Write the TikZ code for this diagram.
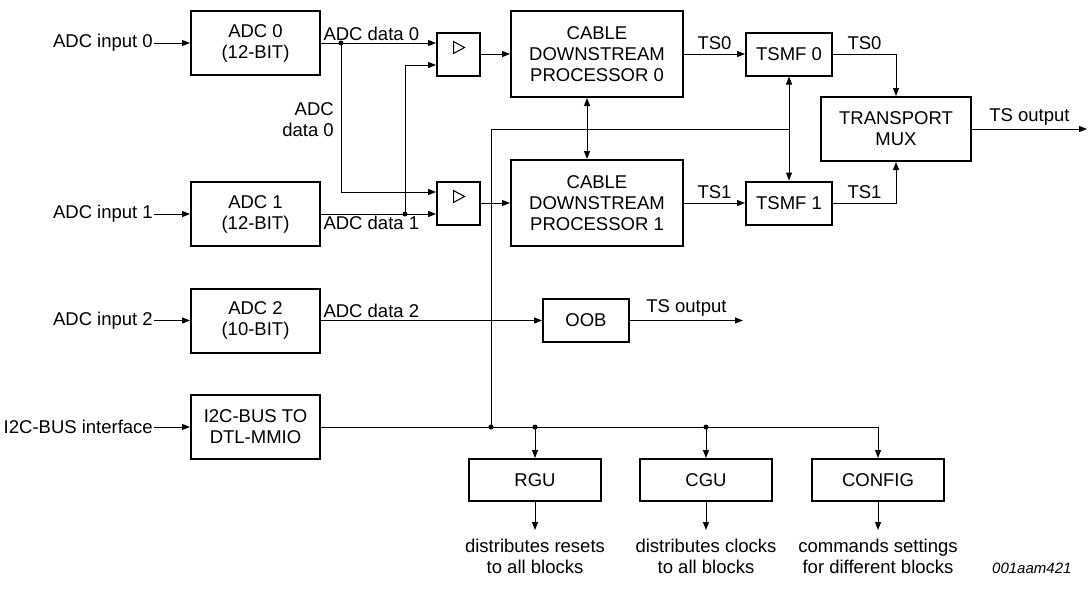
\documentclass[tikz,border=0pt]{standalone}
\usepackage{fontspec}
\setmainfont{Liberation Sans}
\usetikzlibrary{arrows.meta,calc}
\begin{document}
\begin{tikzpicture}[x=1pt,y=-1pt,font=\fontsize{18.5}{21}\selectfont,
    blk/.style={draw,line width=2pt,align=center,inner sep=0pt},
    adcbox/.style={blk,minimum width=129pt,minimum height=64pt},
    muxbox/.style={blk,minimum width=43pt,minimum height=43pt},
    cdpbox/.style={blk,minimum width=172pt,minimum height=86pt},
    smallbox/.style={blk,minimum width=86pt,minimum height=43pt},
    outbox/.style={blk,minimum width=132pt,minimum height=42pt},
    ln/.style={line width=1pt},
    arr/.style={line width=1pt,-{Triangle[length=8pt,width=6pt]}},
    biarr/.style={line width=1pt,{Triangle[length=8pt,width=6pt]}-{Triangle[length=8pt,width=6pt]}},
    dot/.style={circle,fill,inner sep=0pt,minimum size=5pt}]
  \useasboundingbox (0,0) rectangle (1091,589);
  % left column
  \node[adcbox] (adc0) at (255.5,43) {ADC 0\\(12-BIT)};
  \node[adcbox] (adc1) at (255.5,214) {ADC 1\\(12-BIT)};
  \node[adcbox] (adc2) at (255.5,320.5) {ADC 2\\(10-BIT)};
  \node[adcbox] (i2c) at (255.5,427) {I2C-BUS TO\\DTL-MMIO};
  \node[anchor=east,inner sep=1pt] (in0) at (154,43) {ADC input 0};
  \node[anchor=east,inner sep=1pt] (in1) at (154,214) {ADC input 1};
  \node[anchor=east,inner sep=1pt] (in2) at (154,320.5) {ADC input 2};
  \node[anchor=east,inner sep=1pt] (ini2c) at (154,427) {I2C-BUS interface};
  \draw[arr] (in0.east) -- (adc0.west);
  \draw[arr] (in1.east) -- (adc1.west);
  \draw[arr] (in2.east) -- (adc2.west);
  \draw[arr] (ini2c.east) -- (i2c.west);
  % input switches
  \node[muxbox] (mux0) at (458.5,54) {};
  \node[muxbox] (mux1) at (458.5,203) {};
  \foreach \m in {mux0,mux1}
    \draw[ln] ($(\m.north)+(-5,10)$) -- ++(11,6) -- ++(-11,6) -- cycle;
  \draw[arr] (adc0.east) node[above right,inner sep=2pt] {ADC data 0} -- ($(mux0.west)+(0,-11)$);
  \draw[arr] (adc1.east) node[below right,inner sep=2pt] {ADC data 1} -- ($(mux1.west)+(0,11)$);
  \node[dot] (d0) at (341,43) {};
  \node[dot] (d1) at (405,214) {};
  \draw[arr] (d0.center) |- ($(mux1.west)+(0,-11)$);
  \draw[arr] (d1.center) |- ($(mux0.west)+(0,11)$);
  \node[anchor=east,align=right,inner sep=1pt] (dlab) at (335,120) {ADC\\data 0};
  % processors
  \node[cdpbox] (cdp0) at (597,54) {CABLE\\DOWNSTREAM\\PROCESSOR 0};
  \node[cdpbox] (cdp1) at (597,203) {CABLE\\DOWNSTREAM\\PROCESSOR 1};
  \draw[arr] (mux0) -- (cdp0);
  \draw[arr] (mux1) -- (cdp1);
  \draw[biarr] ($(cdp0.south)+(-10,0)$) -- ($(cdp1.north)+(-10,0)$);
  \node[smallbox] (tsmf0) at (789,54) {TSMF 0};
  \node[smallbox] (tsmf1) at (789,203) {TSMF 1};
  \draw[arr] (cdp0) -- node[above] {TS0} (tsmf0);
  \draw[arr] (cdp1) -- node[above] {TS1} (tsmf1);
  \draw[biarr] (tsmf0) -- (tsmf1);
  \node[blk,minimum width=150pt,minimum height=64pt] (tmux) at (896,129) {TRANSPORT\\MUX};
  \draw[arr] (tsmf0) -| node[pos=0.25,above] {TS0} (tmux);
  \draw[arr] (tsmf1) -| node[pos=0.25,above] {TS1} (tmux);
  \coordinate (tsout) at (1087,129);
  \draw[arr] (tmux) -- node[above] {TS output} (tsout);
  % out of band
  \node[smallbox] (oob) at (586,320.5) {OOB};
  \draw[arr] (adc2.east) node[above right,inner sep=2pt] {ADC data 2} -- (oob.west);
  \coordinate (oobout) at (743,320.5);
  \draw[arr] (oob) -- node[above] {TS output} (oobout);
  % control bus
  \node[outbox] (rgu) at (535,480) {RGU};
  \node[outbox] (cgu) at (706,480) {CGU};
  \node[outbox] (config) at (878,480) {CONFIG};
  \draw[arr] (i2c.east) -| (config.north);
  \node[dot] (j0) at (491,427) {};
  \node[dot] (j1) at (rgu.north |- i2c.east) {};
  \node[dot] (j2) at (cgu.north |- i2c.east) {};
  \coordinate (c0) at (491,129);
  \draw[ln] (j0.center) -- (c0) -- (c0 -| tsmf0);
  \draw[arr] (j1.center) -- (rgu.north);
  \draw[arr] (j2.center) -- (cgu.north);
  \node[anchor=north,align=center,inner xsep=0pt,inner ysep=9pt] (rgut) at (535,530) {distributes resets\\to all blocks};
  \node[anchor=north,align=center,inner xsep=0pt,inner ysep=9pt] (cgut) at (706,530) {distributes clocks\\to all blocks};
  \node[anchor=north,align=center,inner xsep=0pt,inner ysep=9pt] (configt) at (878,530) {commands settings\\for different blocks};
  \draw[arr] (rgu) -- (rgut);
  \draw[arr] (cgu) -- (cgut);
  \draw[arr] (config) -- (configt);
  \node[anchor=base west,inner sep=0pt,font=\fontsize{15}{18}\itshape] (fig) at (992,573) {001aam421};
\end{tikzpicture}
\end{document}
